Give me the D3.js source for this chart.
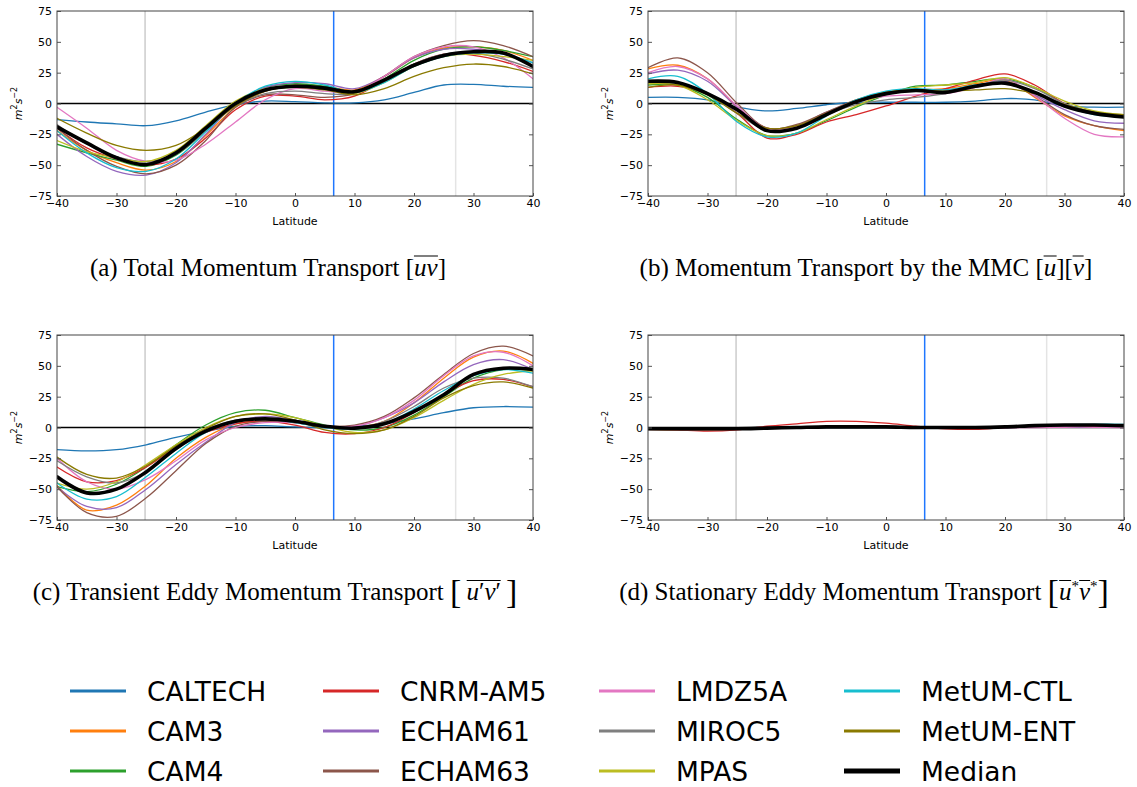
<!DOCTYPE html>
<html>
<head>
<meta charset="utf-8">
<script src="https://cdn.jsdelivr.net/npm/d3@7/dist/d3.min.js"></script>
<style>
  html, body { margin: 0; padding: 0; background: #fff; }
  #wrap { position: relative; width: 1137px; height: 787px; overflow: hidden; }
  svg { position: absolute; left: 0; top: 0; }
  .cap { position: absolute; font-family: "Liberation Serif", "Times New Roman", serif; font-size: 25px;
         color: #000; white-space: nowrap; transform: translate(-50%, -50%); line-height: 1; }
  .ol { display: inline-block; border-top: 1.2px solid #000; line-height: 0.8; padding-top: 1px; }
  .big { font-size: 34px; vertical-align: -3px; font-weight: 300; }
  .cap sup { font-size: 15px; vertical-align: 9px; }
</style>
</head>
<body>
<div id="wrap"></div>
<script>
// Latitude grid (degrees) shared by all panels
const lat = [-40, -35, -30, -25, -20, -15, -10, -5, 0, 5, 10, 15, 20, 25, 30, 35, 40];

// Model names, legend order, and line colours
const models = ["CALTECH", "CAM3", "CAM4", "CNRM-AM5", "ECHAM61", "ECHAM63",
                "LMDZ5A", "MIROC5", "MPAS", "MetUM-CTL", "MetUM-ENT", "Median"];
const colors = ["#1f77b4", "#ff7f0e", "#2ca02c", "#d62728", "#9467bd", "#8c564b",
                "#e377c2", "#7f7f7f", "#bcbd22", "#17becf", "#8a7a00", "#000000"];

// Momentum transport (m^2 s^-2), one row per model in the order above
const totalUV = [
  [-13, -15, -16.5, -18, -14, -7, -1, 2, 1.5, 0.5, 0.5, 3, 9, 15, 15.5, 14, 13],
  [-22, -38, -48, -54, -47, -26, -3, 10, 15, 14, 11, 22, 37, 45, 46, 43, 35],
  [-33, -40, -46, -51, -42, -22, 0, 13, 16, 14, 10, 20, 35, 44, 46, 43, 38],
  [-20, -36, -45, -50, -45, -28, -5, 6, 6, 3, 6, 19, 32, 40, 39, 34, 26],
  [-25, -43, -55, -58, -48, -25, 0, 13, 17, 16, 12, 22, 37, 44, 44, 40, 33],
  [-20, -38, -51, -57, -50, -30, -3, 7, 7, 5, 8, 22, 38, 47, 51, 47, 38],
  [-3, -20, -38, -47, -46, -33, -15, 3, 12, 10, 9, 22, 38, 46, 46, 37, 20],
  [-17, -33, -43, -47, -41, -22, -2, 8, 10, 8, 8, 19, 32, 40, 41, 36, 28],
  [-30, -39, -44, -47, -38, -18, 2, 12, 14, 12, 8, 17, 30, 38, 40, 38, 35],
  [-22, -40, -52, -55, -45, -23, 0, 14, 18, 15, 9, 17, 30, 38, 41, 40, 33],
  [-12, -24, -34, -38, -34, -20, -2, 10, 13, 11, 7, 12, 22, 29, 32, 30, 24],
  [-19, -32, -44, -49.5, -40, -20, 0, 11, 14, 12.5, 9.5, 19, 31, 39, 42, 41, 30]
];

const mmcUV = [
  [5, 5, 3, -3, -6, -4, -1, 1, 1, 1, 1, 2, 4, 3, -2, -3, -3],
  [28, 31, 20, -3, -20, -18, -8, 3, 9, 11, 12, 16, 19, 5, -10, -18, -22],
  [15, 15, 5, -13, -26, -24, -14, -3, 7, 14, 15, 18, 20, 13, 0, -7, -10],
  [13, 14, 8, -8, -28, -25, -15, -9, -2, 6, 12, 19, 24, 15, 0, -8, -9],
  [24, 27, 18, -3, -20, -18, -7, 2, 8, 10, 10, 14, 18, 7, -5, -14, -16],
  [29, 37, 25, 0, -20, -17, -7, 3, 9, 11, 11, 14, 17, 6, -9, -18, -21],
  [25, 30, 20, -2, -21, -19, -9, 1, 6, 7, 8, 13, 20, 6, -12, -25, -27],
  [16, 17, 8, -8, -22, -20, -9, -1, 3, 5, 8, 14, 19, 12, 0, -7, -10],
  [16, 15, 3, -14, -26, -24, -13, -2, 8, 13, 15, 17, 21, 13, 2, -6, -9],
  [20, 22, 8, -15, -27, -24, -10, 3, 10, 12, 11, 15, 17, 9, -2, -9, -11],
  [13, 15, 7, -8, -20, -18, -8, 2, 9, 11, 10, 11, 12, 8, -1, -7, -9],
  [18, 17, 8, -5, -22, -20, -9, 1.5, 8, 10.5, 9, 14, 16.5, 9, -2, -8, -11]
];

const transientUV = [
  [-18, -19, -18, -14, -8, -3, 1, 1.5, 0.5, 0, 1, 3, 7, 12, 16, 17, 16.5],
  [-47, -67, -63, -47, -25, -8, 3, 5, 4, 1, 0, 5, 20, 40, 57, 62, 52],
  [-48, -52, -46, -32, -14, 2, 12, 14, 8, 2, -2, 0, 10, 25, 40, 47, 46],
  [-32, -44, -43, -32, -16, -4, 3, 5, 2, -4, -5, 0, 12, 27, 38, 39, 33],
  [-48, -64, -65, -50, -30, -12, 4, 9, 6, 1, 1, 8, 20, 37, 51, 55, 47],
  [-48, -69, -72, -57, -35, -13, 1, 5, 4, 1, 2, 9, 24, 43, 60, 66, 58],
  [-25, -44, -50, -42, -27, -10, 0, 4, 4, 1, 1, 8, 22, 42, 58, 61, 50],
  [-27, -40, -45, -36, -18, -2, 6, 7, 4, 0, -1, 5, 17, 32, 40, 40, 33],
  [-45, -50, -44, -30, -14, 0, 9, 11, 8, 1, -4, -2, 8, 22, 35, 43, 46],
  [-45, -58, -56, -40, -21, -4, 5, 7, 4, 0, -1, 3, 15, 30, 42, 47, 44],
  [-24, -38, -41, -31, -15, -1, 9, 11, 6, -2, -5, -2, 9, 24, 34, 37, 32],
  [-40, -53, -50, -36, -17, -3, 5, 7, 5, 1, -0.5, 3, 13, 26.5, 43, 48, 47]
];

const stationaryUV = [
  [-0.5, -0.5, -0.5, -0.5, -0.3, 0, 0, 0, 0, 0, 0, 0, 0, 0.2, 0.3, 0.3, 0.3],
  [-1.5, -2, -2, -1.5, -0.5, 0.3, 0.8, 1, 0.8, 0.2, -0.3, -0.3, 0.3, 1.5, 2, 2, 1.5],
  [-1, -1.5, -1.5, -1, -0.5, 0, 0.5, 0.5, 0.5, 0, 0, 0, 0.5, 1.5, 2, 2, 1.8],
  [-1, -2, -3, -2, 1, 3, 5, 5, 3.5, 1, -1, -1.5, 0, 1, 1.5, 1, 1],
  [-1.5, -1.5, -1.5, -1.2, -0.5, 0.2, 0.5, 0.5, 0.3, 0, -0.2, -0.2, 0.3, 1.2, 1.8, 1.6, 1.2],
  [-1.8, -2, -2, -1.5, -0.6, 0.2, 0.6, 0.6, 0.4, 0, -0.3, -0.3, 0.2, 1.3, 2, 1.8, 1.3],
  [-1, -1.2, -1.2, -1, -0.4, 0, 0.3, 0.3, 0.2, 0, -0.3, -0.5, -0.3, 0, 0.2, 0.2, 0],
  [-1, -1, -1, -0.8, -0.4, 0, 0.4, 0.5, 0.4, 0, -0.2, -0.2, 0.3, 1.2, 1.8, 1.8, 1.5],
  [-1, -1, -1, -0.8, -0.3, 0.1, 0.5, 0.6, 0.4, 0, -0.1, 0, 0.5, 1.4, 2, 2, 1.8],
  [-0.8, -1, -1, -0.8, -0.3, 0.2, 0.6, 0.7, 0.5, 0.1, 0, 0.1, 0.6, 1.6, 2.3, 2.6, 2.6],
  [-1, -1.2, -1.2, -1, -0.4, 0.1, 0.5, 0.6, 0.4, 0, -0.2, -0.1, 0.4, 1.4, 2, 2, 1.7],
  [-1, -1, -1, -1, -0.5, 0, 0.5, 0.5, 0.5, 0, 0, 0, 0.5, 1.5, 2, 2, 1.5]
];

// Reference latitudes marked in every panel
const refLats = [-25.2, 6.5, 27.0];
const refColors = ["#cccccc", "#1f77ff", "#e4e4e4"];

const xTicks = [-40, -30, -20, -10, 0, 10, 20, 30, 40];
const yTicks = [-75, -50, -25, 0, 25, 50, 75];

// Legend layout: columns of model names
const legendCols = [models.slice(0, 3), models.slice(3, 6), models.slice(6, 9), models.slice(9, 12)];

const W = 1137, H = 787;
const wrap = d3.select("#wrap");
const svg = wrap.append("svg").attr("width", W).attr("height", H);

const panels = [
  { data: totalUV, left: 57, top: 11, cx: 268, cy: 267,
    cap: '(a) Total Momentum Transport [<span class="ol"><i>uv</i></span>]' },
  { data: mmcUV, left: 648, top: 11, cx: 866, cy: 267,
    cap: '(b) Momentum Transport by the MMC [<span class="ol"><i>u</i></span>][<span class="ol"><i>v</i></span>]' },
  { data: transientUV, left: 57, top: 335, cx: 275, cy: 592,
    cap: '(c) Transient Eddy Momentum Transport <span class="big">[</span>&thinsp;<span class="ol"><i>u</i>′<i>v</i>′</span>&thinsp;<span class="big">]</span>' },
  { data: stationaryUV, left: 648, top: 335, cx: 864, cy: 592,
    cap: '(d) Stationary Eddy Momentum Transport <span class="big">[</span><span class="ol"><i>u</i></span><sup>*</sup><span class="ol"><i>v</i></span><sup>*</sup><span class="big">]</span>' }
];

const pw = 476, ph = 185;
const tickFont = "'DejaVu Sans', sans-serif";

panels.forEach(p => {
  const x = d3.scaleLinear().domain([-40, 40]).range([0, pw]);
  const y = d3.scaleLinear().domain([-75, 75]).range([ph, 0]);
  const g = svg.append("g").attr("transform", `translate(${p.left},${p.top})`);

  const clip = "clip" + p.left + "_" + p.top;
  g.append("clipPath").attr("id", clip).append("rect").attr("width", pw).attr("height", ph);
  const plot = g.append("g").attr("clip-path", `url(#${clip})`);

  // reference latitude markers
  refLats.forEach((v, i) => {
    plot.append("line").attr("x1", x(v)).attr("x2", x(v)).attr("y1", 0).attr("y2", ph)
      .attr("stroke", refColors[i]).attr("stroke-width", 1.5);
  });
  // zero line
  plot.append("line").attr("x1", 0).attr("x2", pw).attr("y1", y(0)).attr("y2", y(0))
    .attr("stroke", "#000").attr("stroke-width", 1.4);

  const line = d3.line().x((d, i) => x(lat[i])).y(d => y(d)).curve(d3.curveCatmullRom.alpha(0.5));
  p.data.forEach((row, i) => {
    const isMed = models[i] === "Median";
    plot.append("path").datum(row).attr("d", line).attr("fill", "none")
      .attr("stroke", colors[i]).attr("stroke-width", isMed ? 3.6 : 1.3)
      .attr("stroke-linejoin", "round").attr("stroke-linecap", "round");
  });

  // axes with inward ticks
  const ax = g.append("g").attr("transform", `translate(0,${ph})`)
    .call(d3.axisBottom(x).tickValues(xTicks).tickSizeInner(-3).tickSizeOuter(0).tickPadding(4));
  const ayl = g.append("g")
    .call(d3.axisLeft(y).tickValues(yTicks).tickSizeInner(-4).tickSizeOuter(0).tickPadding(5));
  const ayr = g.append("g").attr("transform", `translate(${pw},0)`)
    .call(d3.axisRight(y).tickValues(yTicks).tickSizeInner(-4).tickSizeOuter(0).tickFormat(""));
  [ax, ayl, ayr].forEach(a => {
    a.select(".domain").remove();
    a.selectAll(".tick line").attr("stroke", "#555");
    a.selectAll("text").attr("font-family", tickFont).attr("font-size", 11).attr("fill", "#000");
  });
  ax.selectAll("text").attr("dy", "0.6em");

  g.append("rect").attr("width", pw).attr("height", ph).attr("fill", "none")
    .attr("stroke", "#444").attr("stroke-width", 1);

  g.append("text").attr("x", pw / 2).attr("y", ph + 29).attr("text-anchor", "middle")
    .attr("font-family", tickFont).attr("font-size", 11).text("Latitude");

  const yl = g.append("text").attr("transform", `translate(-35,${ph / 2}) rotate(-90)`)
    .attr("text-anchor", "middle").attr("font-family", tickFont).attr("font-size", 11);
  yl.append("tspan").attr("font-style", "italic").text("m");
  yl.append("tspan").attr("font-size", 8).attr("dy", -5).text("2");
  yl.append("tspan").attr("font-style", "italic").attr("dy", 5).text("s");
  yl.append("tspan").attr("font-size", 8).attr("dy", -5).text("−2");

  wrap.append("div").attr("class", "cap").style("left", p.cx + "px").style("top", p.cy + "px").html(p.cap);
});

// Legend
const legX = [70, 323, 599, 844];
const legY = [691, 731, 771];
const leg = svg.append("g");
legendCols.forEach((col, c) => {
  col.forEach((name, r) => {
    const idx = models.indexOf(name);
    const isMed = name === "Median";
    leg.append("line").attr("x1", legX[c]).attr("x2", legX[c] + 56)
      .attr("y1", legY[r]).attr("y2", legY[r])
      .attr("stroke", colors[idx]).attr("stroke-width", isMed ? 5 : 3);
    leg.append("text").attr("x", legX[c] + 77).attr("y", legY[r]).attr("dy", "0.36em")
      .attr("font-family", tickFont).attr("font-size", 26.5).text(name);
  });
});
</script>
</body>
</html>
